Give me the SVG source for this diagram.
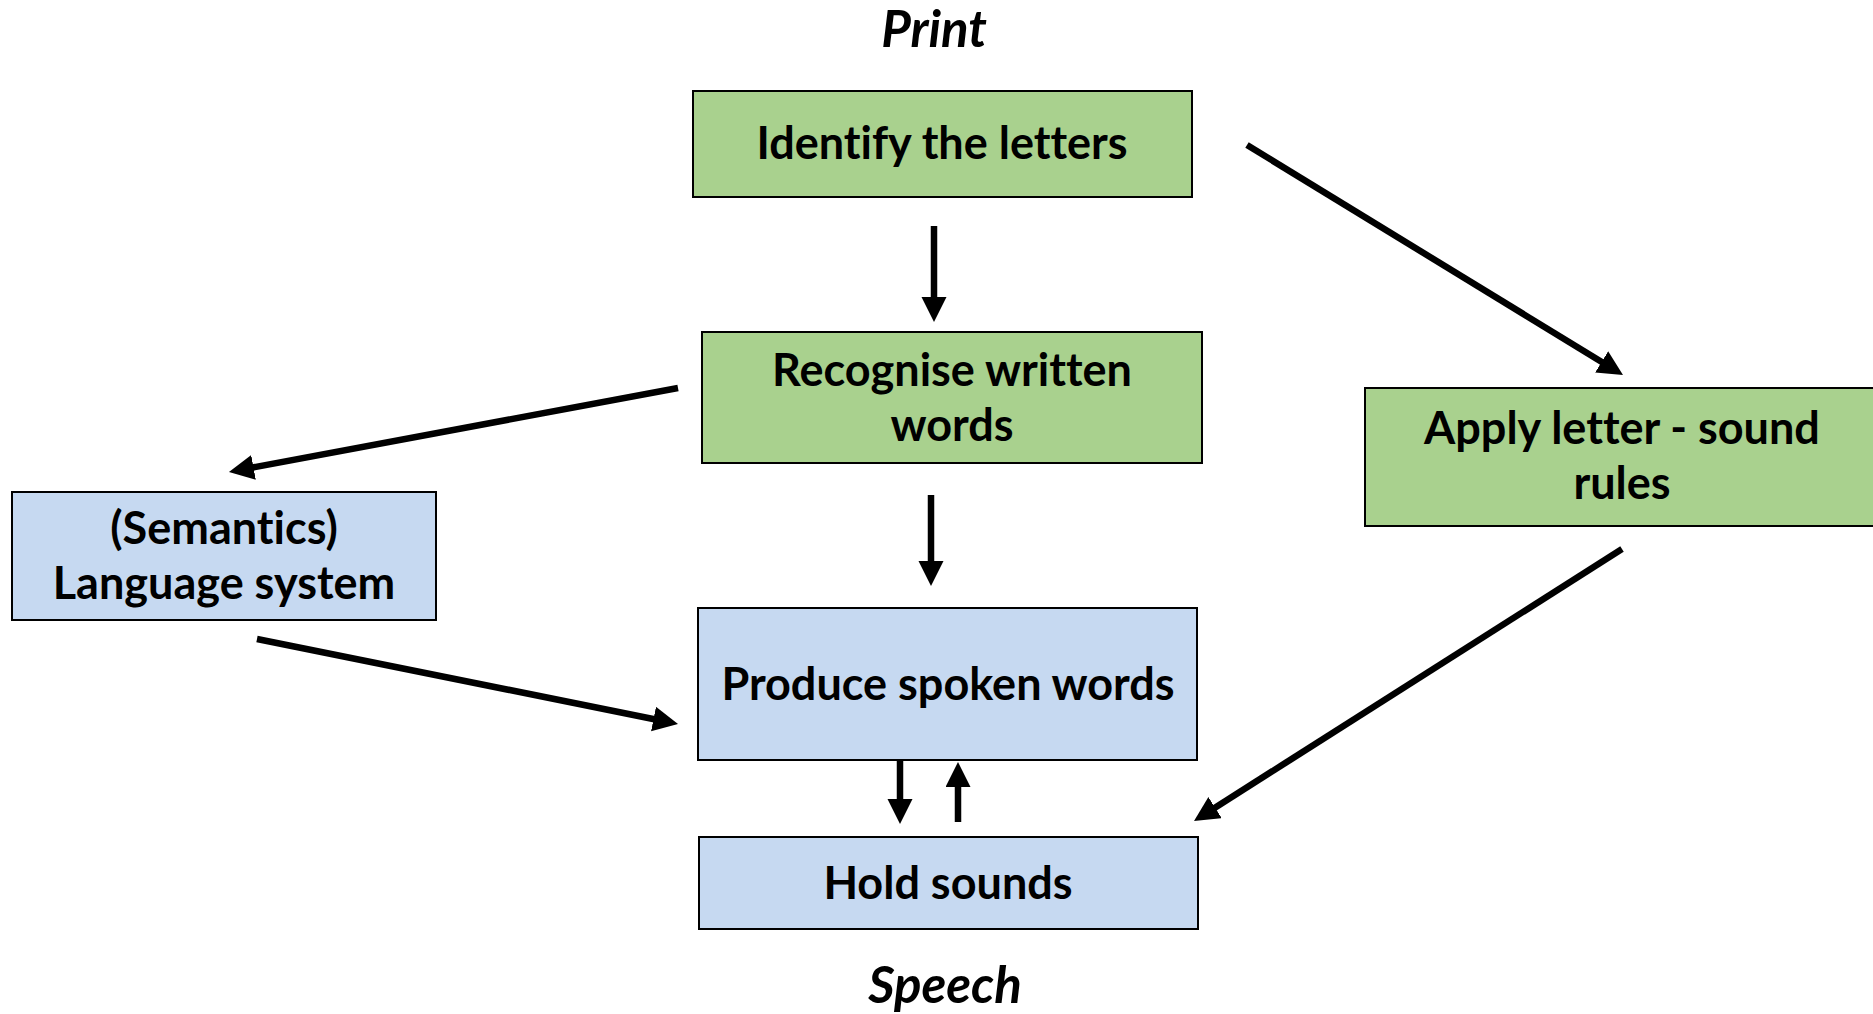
<svg xmlns="http://www.w3.org/2000/svg" width="1873" height="1014" viewBox="0 0 1873 1014">
  <defs>
    <marker id="head" markerUnits="userSpaceOnUse" markerWidth="26" markerHeight="26" refX="16" refY="12.5" orient="auto">
      <path d="M0,0 L25,12.5 L0,25 z" fill="#000"/>
    </marker>
    <style>
      .green { fill: #A9D18E; stroke: #000; stroke-width: 2; }
      .blue { fill: #C6D9F1; stroke: #000; stroke-width: 2; }
      text { font-variant-ligatures: none; font-feature-settings: "liga" 0, "dlig" 0; }
      .label { font-family: Lato, "Liberation Sans", sans-serif; font-weight: bold; font-size: 45px; fill: #000; text-anchor: middle; }
      .title { font-family: Lato, "Liberation Sans", sans-serif; font-weight: bold; font-style: italic; font-size: 51px; fill: #000; text-anchor: middle; }
      .conn { stroke: #000; stroke-width: 6.5; fill: none; marker-end: url(#head); }
    </style>
  </defs>
  <rect width="1873" height="1014" fill="#fff"/>

  <!-- axis labels -->
  <text class="title" x="934" y="47">Print</text>
  <text class="title" x="945" y="1003">Speech</text>

  <!-- nodes -->
  <g id="identify-letters">
    <rect class="green" x="693" y="91" width="499" height="106"/>
    <text class="label" x="942" y="159">Identify the letters</text>
  </g>
  <g id="recognise-words">
    <rect class="green" x="702" y="332" width="500" height="131"/>
    <text class="label" x="952" y="386">Recognise written</text>
    <text class="label" x="952" y="441">words</text>
  </g>
  <g id="letter-sound-rules">
    <rect class="green" x="1365" y="388" width="516" height="138"/>
    <text class="label" x="1622" y="444">Apply letter - sound</text>
    <text class="label" x="1622" y="499">rules</text>
  </g>
  <g id="language-system">
    <rect class="blue" x="12" y="492" width="424" height="128"/>
    <text class="label" x="224" y="544">(Semantics)</text>
    <text class="label" x="224" y="599">Language system</text>
  </g>
  <g id="produce-spoken">
    <rect class="blue" x="698" y="608" width="499" height="152"/>
    <text class="label" x="948" y="700">Produce spoken words</text>
  </g>
  <g id="hold-sounds">
    <rect class="blue" x="699" y="837" width="499" height="92"/>
    <text class="label" x="948" y="899">Hold sounds</text>
  </g>

  <!-- connectors -->
  <g id="connectors">
    <path class="conn" d="M934,226 L934,313"/>
    <path class="conn" d="M931,495 L931,577"/>
    <path class="conn" d="M1247,145 L1615.3,370.3"/>
    <path class="conn" d="M678,388 L237.8,470.3"/>
    <path class="conn" d="M257,639 L669.2,722.2"/>
    <path class="conn" d="M1622,549 L1201.6,816.2"/>
    <path class="conn" d="M900,760 L900,815"/>
    <path class="conn" d="M958,822 L958,771"/>
  </g>
</svg>
